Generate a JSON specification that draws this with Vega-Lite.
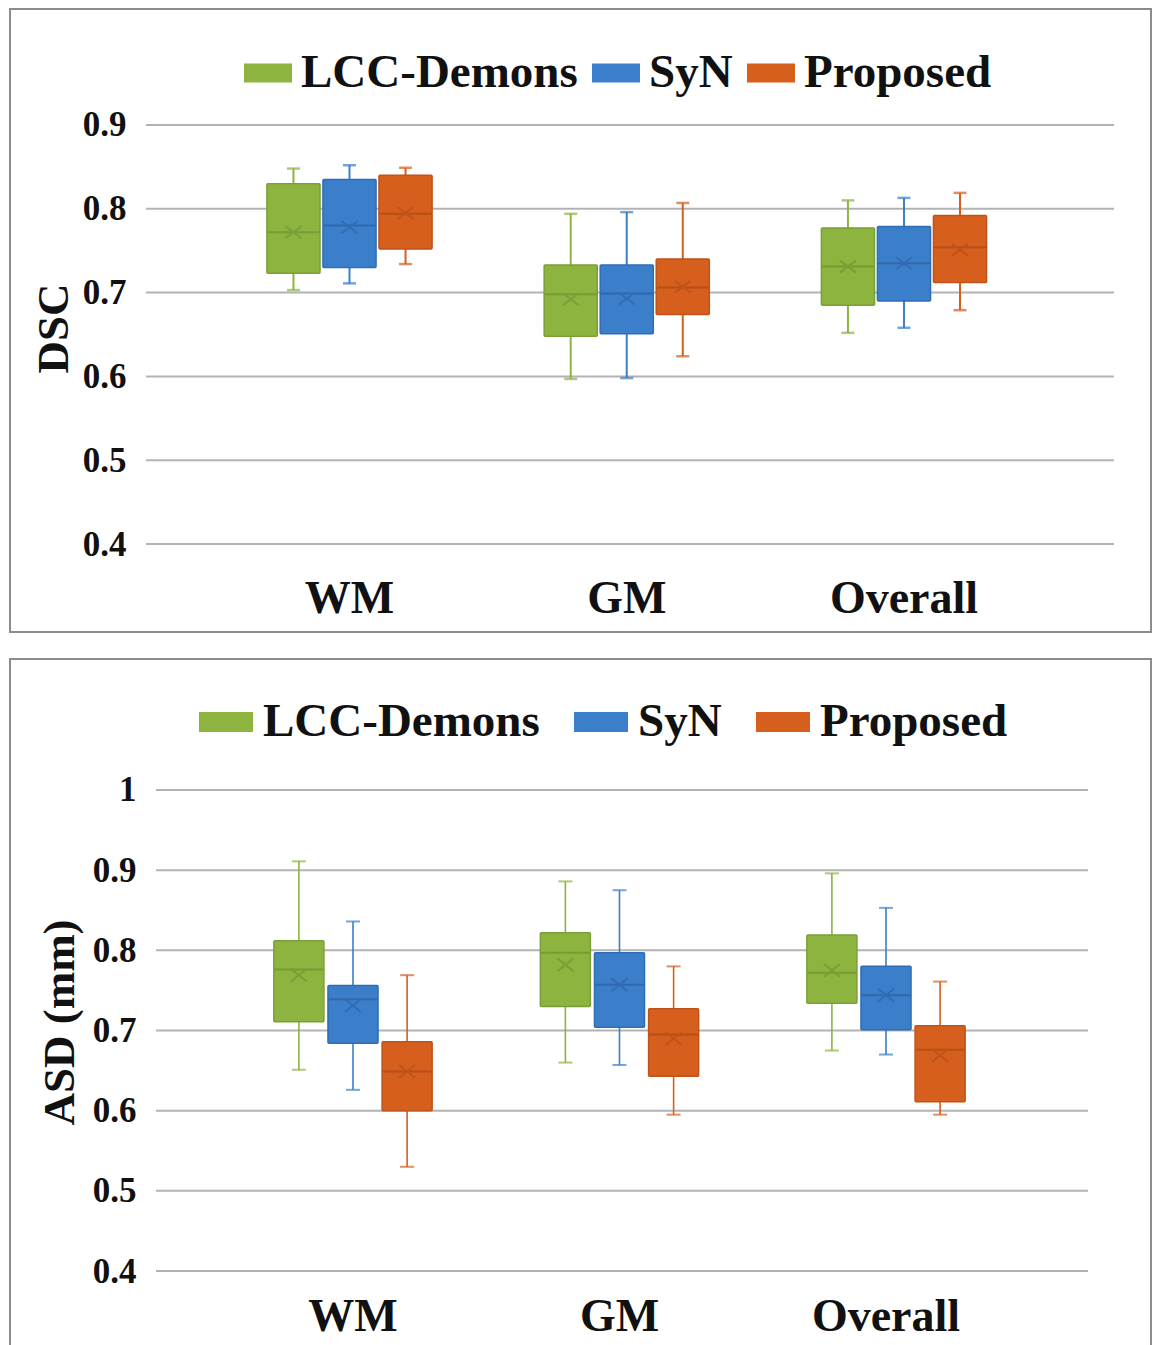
{
  "$schema": "https://vega.github.io/schema/vega-lite/v6.json",
  "background": "white",
  "padding": {"left": 9, "top": 8, "right": 0, "bottom": 0},
  "spacing": 25,
  "resolve": {"scale": {"x": "independent", "xOffset": "independent", "y": "independent", "color": "independent", "fill": "independent", "stroke": "independent"}},
  "config": {
    "view": {"stroke": "#8c8c8c", "strokeWidth": 2},
    "font": "Liberation Serif"
  },
  "datasets": {
    "dsc": [
      {"group": "WM", "method": "LCC-Demons", "lower": 0.703, "q1": 0.723, "median": 0.772, "q3": 0.830, "upper": 0.848, "mean": 0.772},
      {"group": "WM", "method": "SyN", "lower": 0.711, "q1": 0.730, "median": 0.780, "q3": 0.835, "upper": 0.852, "mean": 0.778},
      {"group": "WM", "method": "Proposed", "lower": 0.734, "q1": 0.752, "median": 0.794, "q3": 0.840, "upper": 0.849, "mean": 0.795},
      {"group": "GM", "method": "LCC-Demons", "lower": 0.597, "q1": 0.648, "median": 0.698, "q3": 0.733, "upper": 0.794, "mean": 0.692},
      {"group": "GM", "method": "SyN", "lower": 0.598, "q1": 0.651, "median": 0.699, "q3": 0.733, "upper": 0.796, "mean": 0.693},
      {"group": "GM", "method": "Proposed", "lower": 0.624, "q1": 0.674, "median": 0.706, "q3": 0.740, "upper": 0.807, "mean": 0.707},
      {"group": "Overall", "method": "LCC-Demons", "lower": 0.652, "q1": 0.685, "median": 0.731, "q3": 0.777, "upper": 0.810, "mean": 0.731},
      {"group": "Overall", "method": "SyN", "lower": 0.658, "q1": 0.690, "median": 0.735, "q3": 0.779, "upper": 0.813, "mean": 0.735},
      {"group": "Overall", "method": "Proposed", "lower": 0.679, "q1": 0.712, "median": 0.754, "q3": 0.792, "upper": 0.819, "mean": 0.751}
    ],
    "asd": [
      {"group": "WM", "method": "LCC-Demons", "lower": 0.651, "q1": 0.711, "median": 0.776, "q3": 0.812, "upper": 0.911, "mean": 0.769},
      {"group": "WM", "method": "SyN", "lower": 0.626, "q1": 0.684, "median": 0.739, "q3": 0.756, "upper": 0.836, "mean": 0.731},
      {"group": "WM", "method": "Proposed", "lower": 0.530, "q1": 0.600, "median": 0.649, "q3": 0.686, "upper": 0.769, "mean": 0.649},
      {"group": "GM", "method": "LCC-Demons", "lower": 0.660, "q1": 0.730, "median": 0.797, "q3": 0.822, "upper": 0.886, "mean": 0.782},
      {"group": "GM", "method": "SyN", "lower": 0.657, "q1": 0.704, "median": 0.757, "q3": 0.797, "upper": 0.875, "mean": 0.757},
      {"group": "GM", "method": "Proposed", "lower": 0.595, "q1": 0.643, "median": 0.695, "q3": 0.727, "upper": 0.780, "mean": 0.690},
      {"group": "Overall", "method": "LCC-Demons", "lower": 0.675, "q1": 0.734, "median": 0.772, "q3": 0.819, "upper": 0.896, "mean": 0.775},
      {"group": "Overall", "method": "SyN", "lower": 0.670, "q1": 0.701, "median": 0.744, "q3": 0.780, "upper": 0.853, "mean": 0.744},
      {"group": "Overall", "method": "Proposed", "lower": 0.595, "q1": 0.611, "median": 0.676, "q3": 0.706, "upper": 0.761, "mean": 0.669}
    ],
    "grid_dsc": [{"v": 0.4}, {"v": 0.5}, {"v": 0.6}, {"v": 0.7}, {"v": 0.8}, {"v": 0.9}],
    "grid_asd": [{"v": 0.4}, {"v": 0.5}, {"v": 0.6}, {"v": 0.7}, {"v": 0.8}, {"v": 0.9}, {"v": 1.0}]
  },
  "vconcat": [
    {
      "width": 1141,
      "height": 623,
      "layer": [
        {
          "data": {"name": "grid_dsc"},
          "mark": {"type": "rule", "color": "#b3b3b3", "strokeWidth": 2, "xOffset": -203.5, "x2Offset": 210},
          "encoding": {
            "x": {"datum": "WM", "type": "nominal"},
            "x2": {"datum": "Overall"},
            "y": {"field": "v", "type": "quantitative"}
          }
        },
        {
          "data": {"name": "dsc"},
          "layer": [
            {
              "mark": {"type": "bar", "width": 2},
              "encoding": {
                "y": {"field": "lower", "type": "quantitative"},
                "y2": {"field": "upper"},
                "color": {"field": "method", "type": "nominal"}
              }
            },
            {
              "mark": {"type": "tick", "size": 13, "thickness": 2.5},
              "encoding": {
                "y": {"field": "lower", "type": "quantitative"},
                "color": {"field": "method", "type": "nominal"}
              }
            },
            {
              "mark": {"type": "tick", "size": 13, "thickness": 2.5},
              "encoding": {
                "y": {"field": "upper", "type": "quantitative"},
                "color": {"field": "method", "type": "nominal"}
              }
            },
            {
              "mark": {"type": "bar", "strokeWidth": 1.5, "cornerRadius": 1},
              "encoding": {
                "y": {"field": "q1", "type": "quantitative"},
                "y2": {"field": "q3"},
                "color": {"field": "method", "type": "nominal"},
                "stroke": {
                  "field": "method", "type": "nominal", "legend": null,
                  "scale": {"domain": ["LCC-Demons", "SyN", "Proposed"], "range": ["#7a9f37", "#2f6db5", "#bf531a"]}
                }
              }
            },
            {
              "mark": {"type": "tick", "size": 52, "thickness": 2},
              "encoding": {
                "y": {"field": "median", "type": "quantitative"},
                "fill": {
                  "field": "method", "type": "nominal", "legend": null,
                  "scale": {"domain": ["LCC-Demons", "SyN", "Proposed"], "range": ["#6a9330", "#2a60a3", "#a94816"]}
                }
              }
            },
            {
              "mark": {"type": "point", "shape": "M-1,-0.75L1,0.75M-1,0.75L1,-0.75", "filled": false, "size": 256, "strokeWidth": 2, "opacity": 1},
              "encoding": {
                "y": {"field": "mean", "type": "quantitative"},
                "stroke": {"field": "method", "type": "nominal", "legend": null}
              }
            }
          ],
          "encoding": {
            "x": {"field": "group", "type": "nominal"},
            "xOffset": {
              "field": "method", "type": "nominal",
              "scale": {"type": "band", "domain": ["LCC-Demons", "SyN", "Proposed"], "paddingInner": 0.052, "paddingOuter": 1.033}
            }
          }
        }
      ],
      "encoding": {
        "x": {
          "type": "nominal",
          "scale": {"type": "band", "domain": ["WM", "GM", "Overall"], "paddingInner": 0, "paddingOuter": 0.5578, "align": 0.6495},
          "axis": {
            "title": null, "orient": "bottom", "offset": -20, "domain": false, "ticks": false, "grid": false,
            "labelAngle": 0, "labelPadding": 0, "labelBaseline": "alphabetic",
            "labelFont": "Liberation Serif", "labelFontWeight": "bold", "labelFontSize": 46, "labelColor": "#111111"
          }
        },
        "y": {
          "type": "quantitative",
          "scale": {"domain": [0.295, 1.0384], "nice": false, "zero": false},
          "axis": {
            "title": "DSC", "orient": "left", "offset": -136, "domain": false, "ticks": false, "grid": false,
            "values": [0.4, 0.5, 0.6, 0.7, 0.8, 0.9], "format": ".1~f",
            "labelPadding": 20, "labelFont": "Liberation Serif", "labelFontWeight": "bold", "labelFontSize": 35, "labelColor": "#111111",
            "titleFont": "Liberation Serif", "titleFontWeight": "bold", "titleFontSize": 45, "titleColor": "#111111",
            "titlePadding": 6, "titleY": 319
          }
        },
        "color": {
          "scale": {"domain": ["LCC-Demons", "SyN", "Proposed"], "range": ["#8cb43f", "#3b7ec9", "#d65f1d"]},
          "legend": {
            "orient": "none", "legendX": 234, "legendY": 40, "direction": "horizontal",
            "title": null, "padding": 0,
            "symbolType": "M-1,-0.4H1V0.4H-1Z", "symbolSize": 2304, "symbolStrokeWidth": 0, "symbolOpacity": 1,
            "labelFont": "Liberation Serif", "labelFontWeight": "bold", "labelFontSize": 47,
            "labelColor": "#111111", "labelOffset": 9, "columnPadding": 14, "labelLimit": 500
          }
        }
      }
    },
    {
      "width": 1141,
      "height": 688,
      "layer": [
        {
          "data": {"name": "grid_asd"},
          "mark": {"type": "rule", "color": "#b3b3b3", "strokeWidth": 2, "xOffset": -197, "x2Offset": 202},
          "encoding": {
            "x": {"datum": "WM", "type": "nominal"},
            "x2": {"datum": "Overall"},
            "y": {"field": "v", "type": "quantitative"}
          }
        },
        {
          "data": {"name": "asd"},
          "layer": [
            {
              "mark": {"type": "bar", "width": 1.6},
              "encoding": {
                "y": {"field": "lower", "type": "quantitative"},
                "y2": {"field": "upper"},
                "color": {"field": "method", "type": "nominal"}
              }
            },
            {
              "mark": {"type": "tick", "size": 14, "thickness": 2},
              "encoding": {
                "y": {"field": "lower", "type": "quantitative"},
                "color": {"field": "method", "type": "nominal"}
              }
            },
            {
              "mark": {"type": "tick", "size": 14, "thickness": 2},
              "encoding": {
                "y": {"field": "upper", "type": "quantitative"},
                "color": {"field": "method", "type": "nominal"}
              }
            },
            {
              "mark": {"type": "bar", "strokeWidth": 1.5, "cornerRadius": 1},
              "encoding": {
                "y": {"field": "q1", "type": "quantitative"},
                "y2": {"field": "q3"},
                "color": {"field": "method", "type": "nominal"},
                "stroke": {
                  "field": "method", "type": "nominal", "legend": null,
                  "scale": {"domain": ["LCC-Demons", "SyN", "Proposed"], "range": ["#7a9f37", "#2f6db5", "#bf531a"]}
                }
              }
            },
            {
              "mark": {"type": "tick", "size": 49, "thickness": 2},
              "encoding": {
                "y": {"field": "median", "type": "quantitative"},
                "fill": {
                  "field": "method", "type": "nominal", "legend": null,
                  "scale": {"domain": ["LCC-Demons", "SyN", "Proposed"], "range": ["#6a9330", "#2a60a3", "#a94816"]}
                }
              }
            },
            {
              "mark": {"type": "point", "shape": "M-1,-0.8L1,0.8M-1,0.8L1,-0.8", "filled": false, "size": 256, "strokeWidth": 2, "opacity": 1},
              "encoding": {
                "y": {"field": "mean", "type": "quantitative"},
                "stroke": {"field": "method", "type": "nominal", "legend": null}
              }
            }
          ],
          "encoding": {
            "x": {"field": "group", "type": "nominal"},
            "xOffset": {
              "field": "method", "type": "nominal",
              "scale": {"type": "band", "domain": ["LCC-Demons", "SyN", "Proposed"], "paddingInner": 0.075, "paddingOuter": 1.028}
            }
          }
        }
      ],
      "encoding": {
        "x": {
          "type": "nominal",
          "scale": {"type": "band", "domain": ["WM", "GM", "Overall"], "paddingInner": 0, "paddingOuter": 0.6407, "align": 0.6142},
          "axis": {
            "title": null, "orient": "bottom", "offset": -17, "domain": false, "ticks": false, "grid": false,
            "labelAngle": 0, "labelPadding": 0, "labelBaseline": "alphabetic",
            "labelFont": "Liberation Serif", "labelFontWeight": "bold", "labelFontSize": 46, "labelColor": "#111111"
          }
        },
        "y": {
          "type": "quantitative",
          "scale": {"domain": [0.3052, 1.1634], "nice": false, "zero": false},
          "axis": {
            "title": "ASD (mm)", "orient": "left", "offset": -146, "domain": false, "ticks": false, "grid": false,
            "values": [0.4, 0.5, 0.6, 0.7, 0.8, 0.9, 1.0], "format": ".1~f",
            "labelPadding": 20, "labelFont": "Liberation Serif", "labelFontWeight": "bold", "labelFontSize": 35, "labelColor": "#111111",
            "titleFont": "Liberation Serif", "titleFontWeight": "bold", "titleFontSize": 45, "titleColor": "#111111",
            "titlePadding": 10, "titleY": 363
          }
        },
        "color": {
          "scale": {"domain": ["LCC-Demons", "SyN", "Proposed"], "range": ["#8cb43f", "#3b7ec9", "#d65f1d"]},
          "legend": {
            "orient": "none", "legendX": 189, "legendY": 36, "direction": "horizontal",
            "title": null, "padding": 0,
            "symbolType": "M-1,-0.37H1V0.37H-1Z", "symbolSize": 2916, "symbolStrokeWidth": 0, "symbolOpacity": 1,
            "labelFont": "Liberation Serif", "labelFontWeight": "bold", "labelFontSize": 47,
            "labelColor": "#111111", "labelOffset": 10, "columnPadding": 34, "labelLimit": 500
          }
        }
      }
    }
  ]
}
